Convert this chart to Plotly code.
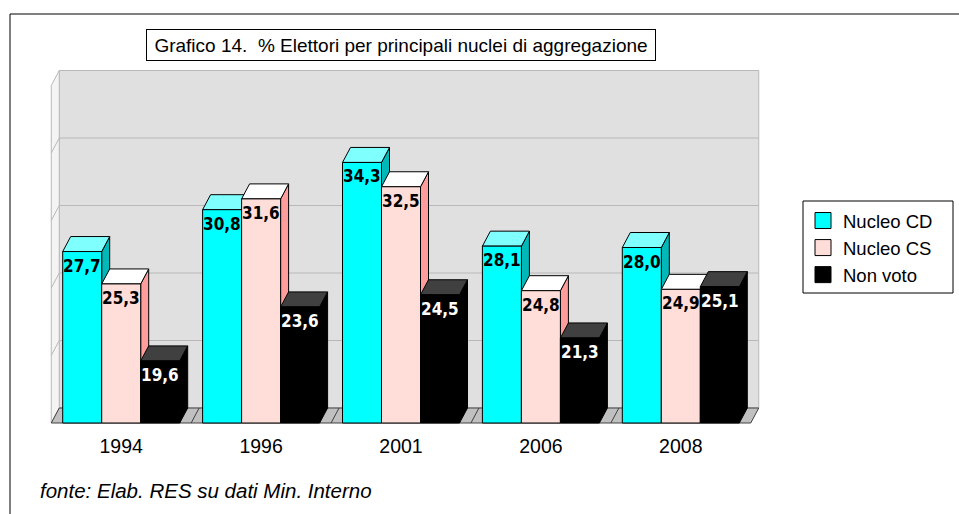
import plotly.graph_objects as go

# ---------------- data ----------------
YEARS = ["1994", "1996", "2001", "2006", "2008"]
SERIES = ["Nucleo CD", "Nucleo CS", "Non voto"]
NUCLEO_CD = [27.7, 30.8, 34.3, 28.1, 28.0]
NUCLEO_CS = [25.3, 31.6, 32.5, 24.8, 24.9]
NON_VOTO = [19.6, 23.6, 24.5, 21.3, 25.1]
Y_MIN, Y_MAX = 15, 40
GRID = [15, 20, 25, 30, 35, 40]

VALUES = [NUCLEO_CD, NUCLEO_CS, NON_VOTO]

# ---------------- styles ----------------
FRONT = ["#00FFFF", "#FFDDD8", "#000000"]
TOP = ["#80FFFF", "#FFFFFF", "#404040"]
SIDE = ["#00B8B8", "#FF9C9C", "#000000"]
LABEL = ["#000000", "#000000", "#FFFFFF"]

W, H = 959, 514
X0PX, XS = 121.2, 139.9      # pixel of first group centre, px per category
YBASEPX, YS = 423, 13.5      # pixel of Y_MIN on front plane, px per unit
PL, PR, PT, PB = 40, 770, 60, 426

xr = [(PL - X0PX) / XS, (PR - X0PX) / XS]
yr = [Y_MIN + (YBASEPX - PB) / YS, Y_MIN + (YBASEPX - PT) / YS]
BW = 39 / XS
DX = 8 / XS
DY = 15 / YS


def pxx(xp):
    return (xp - PL) / (PR - PL)


def pxy(yp):
    return (PB - yp) / (PB - PT)


def poly(xs, ys, fill, line, width=1):
    return go.Scatter(x=list(xs) + [xs[0]], y=list(ys) + [ys[0]], mode="lines",
                      fill="toself", fillcolor=fill,
                      line=dict(color=line, width=width),
                      hoverinfo="skip", showlegend=False)


fig = go.Figure()
n = len(YEARS)
XL, XRr = -0.5, n - 0.5

# back wall
fig.add_trace(poly([XL + DX, XRr + DX, XRr + DX, XL + DX],
                   [Y_MIN + DY, Y_MIN + DY, Y_MAX + DY, Y_MAX + DY], "#E0E0E0", "#B8B8B8"))
# left side wall
fig.add_trace(poly([XL, XL + DX, XL + DX, XL],
                   [Y_MIN, Y_MIN + DY, Y_MAX + DY, Y_MAX], "#F4F4F4", "#B8B8B8"))
# gridlines
gx, gy = [], []
for g in GRID[1:-1]:
    gx += [XL, XL + DX, XRr + DX, None]
    gy += [g, g + DY, g + DY, None]
fig.add_trace(go.Scatter(x=gx, y=gy, mode="lines", line=dict(color="#B8B8B8", width=1),
                         hoverinfo="skip", showlegend=False))
# floor
fig.add_trace(poly([XL, XRr, XRr + DX, XL + DX],
                   [Y_MIN, Y_MIN, Y_MIN + DY, Y_MIN + DY], "#C0C0C0", "#404040"))
fx, fy = [], []
for k in range(n - 1):
    fx += [k + 0.5, k + 0.5 + DX, None]
    fy += [Y_MIN, Y_MIN + DY, None]
fig.add_trace(go.Scatter(x=fx, y=fy, mode="lines", line=dict(color="#404040", width=1),
                         hoverinfo="skip", showlegend=False))

# bars (painter's order: left to right, side -> top -> front)
annotations = []
for i in range(n):
    for j, vals in enumerate(VALUES):
        v = vals[i]
        xl = i + (j - 1) * BW - BW / 2
        xr_ = xl + BW
        fig.add_trace(poly([xr_, xr_ + DX, xr_ + DX, xr_],
                           [Y_MIN, Y_MIN + DY, v + DY, v], SIDE[j], "#000000"))
        fig.add_trace(poly([xl, xr_, xr_ + DX, xl + DX],
                           [v, v, v + DY, v + DY], TOP[j], "#000000"))
        fig.add_trace(poly([xl, xr_, xr_, xl],
                           [Y_MIN, Y_MIN, v, v], FRONT[j], "#000000"))
        annotations.append(dict(
            x=(xl + xr_) / 2, y=v, xref="x", yref="y", text=f"{v:.1f}".replace(".", ","),
            showarrow=False, yanchor="top", xanchor="center", yshift=-2,
            font=dict(family="DejaVu Sans Condensed, DejaVu Sans Mono, monospace",
                      size=17, color=LABEL[j], weight="bold")))

# legend entries
for j, name in enumerate(SERIES):
    fig.add_trace(go.Scatter(x=[None], y=[None], mode="markers", name=name,
                             legendgroup=name,
                             marker=dict(symbol="square", size=16, color=FRONT[j],
                                         line=dict(color="#000000", width=1))))

# title box
annotations.append(dict(
    x=pxx(401), y=pxy(45), xref="paper", yref="paper",
    text="Grafico 14.  % Elettori per principali nuclei di aggregazione",
    showarrow=False, xanchor="center", yanchor="middle",
    width=506, height=28, bordercolor="#000000", borderwidth=1, bgcolor="#FFFFFF",
    font=dict(family="Liberation Sans, Arial, sans-serif", size=19, color="#000000")))
# source
annotations.append(dict(
    x=pxx(38), y=pxy(490), xref="paper", yref="paper",
    text="<i>fonte: Elab. RES su dati Min. Interno</i>",
    showarrow=False, xanchor="left", yanchor="middle",
    font=dict(family="Liberation Sans, Arial, sans-serif", size=20.5, color="#000000")))

shapes = [
    dict(type="rect", xref="paper", yref="paper",
         x0=pxx(10), y0=pxy(14), x1=pxx(1100), y1=pxy(700),
         line=dict(color="#000000", width=1), fillcolor="rgba(0,0,0,0)", layer="below"),
    # legend frame
    dict(type="rect", xref="paper", yref="paper",
         x0=pxx(803), y0=pxy(201), x1=pxx(953), y1=pxy(293),
         line=dict(color="#000000", width=1), fillcolor="#FFFFFF", layer="below"),
]

fig.update_layout(
    width=W, height=H, autosize=False,
    margin=dict(l=PL, r=W - PR, t=PT, b=H - PB),
    paper_bgcolor="#FFFFFF", plot_bgcolor="rgba(0,0,0,0)",
    showlegend=True,
    legend=dict(x=pxx(803), y=pxy(202), xanchor="left", yanchor="top",
                borderwidth=0, bgcolor="rgba(0,0,0,0)",
                font=dict(family="Liberation Sans, Arial, sans-serif", size=18.5, color="#000000"),
                tracegroupgap=0, itemsizing="trace"),
    xaxis=dict(range=xr, showgrid=False, zeroline=False, showline=False, ticks="",
               tickmode="array", tickvals=list(range(n)), ticktext=YEARS, ticklabelstandoff=6,
               tickfont=dict(family="Liberation Sans, Arial, sans-serif", size=19.5, color="#000000"),
               fixedrange=True),
    yaxis=dict(range=yr, showgrid=False, zeroline=False, showline=False,
               showticklabels=False, ticks="", fixedrange=True),
    annotations=annotations, shapes=shapes,
)

fig.write_html("out.html", config={"displayModeBar": False},
               post_script="document.body.style.margin='0';document.body.style.overflow='hidden';")
